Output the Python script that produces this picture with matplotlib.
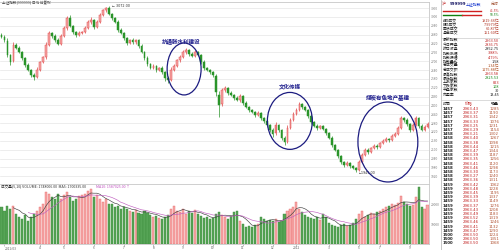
import matplotlib
matplotlib.use("Agg")
import matplotlib.pyplot as plt
import numpy as np
from matplotlib.patches import Ellipse, Rectangle
from matplotlib.lines import Line2D

plt.rcParams['font.family'] = ['Noto Sans CJK SC', 'DejaVu Sans']

# ---------------- data ----------------
closes = [2864,2844,2742,2694,2810,2790,2762,2722,2674,2640,
          2607,2593,2640,2694,2728,2810,2891,2871,2844,2817,
          2871,2925,2993,2939,2898,2878,2891,2898,2925,2966,
          2979,2932,2966,3013,3047,3060,3020,2993,2966,2912,
          2891,2857,2823,2844,2830,2844,2803,2762,2722,2681,
          2654,2667,2640,2654,2627,2586,2573,2640,2667,2708,
          2728,2762,2776,2749,2735,2762,2742,2694,2654,2640,
          2627,2607,2491,2403,2505,2518,2484,2471,2451,2437,
          2464,2417,2390,2369,2356,2335,2349,2315,2295,2268,
          2234,2207,2268,2234,2180,2153,2247,2301,2342,2369,
          2410,2390,2369,2329,2288,2261,2247,2261,2241,2213,
          2180,2132,2098,2057,2017,1996,2010,1989,1976,1962,
          2017,2064,2098,2084,2111,2125,2118,2145,2159,2173,
          2166,2193,2207,2247,2315,2301,2274,2234,2268,2315,
          2261,2234,2254,2274]
opens = [2880,2866,2840,2740,2700,2812,2788,2760,2720,2672,
         2638,2605,2595,2642,2696,2730,2812,2889,2869,2842,
         2819,2873,2927,2990,2937,2896,2876,2893,2900,2927,
         2964,2977,2934,2968,3015,3045,3058,3018,2991,2964,
         2910,2889,2855,2825,2846,2828,2842,2801,2760,2720,
         2679,2656,2665,2642,2652,2625,2584,2575,2642,2669,
         2706,2730,2760,2774,2747,2737,2760,2740,2692,2652,
         2638,2625,2600,2470,2410,2503,2516,2482,2469,2449,
         2439,2462,2415,2388,2367,2354,2337,2347,2313,2293,
         2266,2232,2210,2266,2232,2178,2155,2249,2303,2344,
         2371,2408,2388,2367,2327,2286,2259,2249,2259,2239,
         2211,2178,2130,2096,2055,2015,1998,2008,1987,1974,
         1964,2019,2066,2096,2086,2113,2127,2120,2147,2161,
         2171,2168,2195,2209,2249,2313,2299,2272,2236,2270,
         2313,2259,2236,2256]
upper_wick = [12,8,15,10,20,9,14,7,11,16,
              9,13,18,10,8,22,14,9,12,17,
              10,15,12,20,9,11,14,8,16,12,
              18,10,13,15,9,7,14,11,8,13,
              16,10,12,9,14,8,11,15,10,13,
              9,16,12,8,14,10,18,22,12,9,
              15,11,14,8,12,16,10,9,13,11,
              8,10,14,25,16,12,9,13,10,15,
              11,9,14,8,12,10,16,9,11,13,
              8,12,18,10,9,14,20,12,10,15,
              13,9,11,8,12,10,14,9,11,8,
              10,12,9,11,8,10,13,9,12,8,
              15,12,10,14,9,11,13,8,12,10,
              9,11,14,16,12,10,13,9,15,12,
              10,14,11,12]
lower_wick = [10,14,12,18,9,11,8,15,12,10,
              16,20,9,12,10,14,8,11,13,9,
              12,10,14,9,15,11,8,12,10,9,
              13,15,10,9,11,12,10,14,9,12,
              10,13,15,9,12,11,14,10,12,15,
              9,11,13,10,12,20,18,10,9,12,
              11,8,10,13,9,12,10,14,11,9,
              12,15,30,80,14,10,12,9,11,10,
              13,12,10,14,9,11,10,12,13,15,
              12,18,10,14,16,20,12,10,9,11,
              10,12,9,11,13,10,12,9,10,12,
              11,13,10,12,14,11,9,12,10,13,
              10,9,11,12,10,9,11,10,12,9,
              11,10,12,9,10,11,12,14,10,11,
              12,10,11,9]
volumes = [37,33,38,35,38,30,27,25,29,23,
           27,30,33,37,40,52,50,47,45,50,
           45,49,52,47,43,45,48,49,50,53,
           55,47,49,45,42,45,40,40,37,38,
           35,37,35,33,32,34,31,30,33,31,
           29,27,28,26,25,27,29,35,38,33,
           32,35,30,33,31,34,30,28,26,27,
           25,26,30,32,29,27,25,28,32,33,
           23,20,17,18,17,19,20,27,25,23,
           24,23,25,22,23,30,33,35,37,42,
           35,32,29,27,26,25,27,24,30,27,
           21,19,18,17,19,20,18,19,21,25,
           30,33,27,29,31,30,32,33,35,37,
           38,40,39,41,48,42,40,38,39,47,
           57,37,35,39]

date_pos = [1, 13, 21, 31, 41, 51, 61, 71, 81, 91, 99, 110, 120, 127, 137]
date_labels = ["2011/03", "4", "5", "6", "7", "8", "9", "10", "11", "12",
               "2012", "3", "5", "7", "9"]

annotations = ["抗通胀水利建设", "文化传媒", "煤炭有色地产基建"]
annot_idx = [60.3, 96.8, 129.7]
annot_price = [2837, 2525, 2457]
ell_idx = [61.3, 96.8, 129.7]
ell_price = [2647, 2295, 2152]
ell_w = [11.4, 15.1, 20.1]
ell_h = [352, 386, 542]

info_labels1 = ["A股成交", "B股成交", "国债成交", "基金成交"]
info_values1 = ["1919.66亿", "7.9979亿", "60.87亿", "151.60亿"]
info_labels2 = ["最新指数", "今日开盘", "昨日收盘", "指数涨幅", "指数振幅", "指数量比",
                "总成交量", "总成交额", "最高指数", "最低指数", "上涨家数", "下跌家数",
                "平盘家数", "市盈率"]
info_values2 = ["2963.50", "2836.75", "2852.75", "3.88%", "4.79%", "1.58",
                "1.34亿", "1175.88亿", "2963.58", "2825.53", "823", "108",
                "30", "13.45"]
info_colors2 = ["#c02020", "#c02020", "#202020", "#c02020", "#c02020", "#202020",
                "#b05020", "#b05020", "#c02020", "#1a8a1a", "#c02020", "#1a8a1a",
                "#202020", "#202020"]
tick_times = ["1457"] * 6 + ["1458"] * 12 + ["1459"] * 12 + ["1500"] * 3
tick_prices = [2963.43, 2963.37, 2963.31, 2963.33, 2963.25, 2963.29, 2963.21, 2963.40,
               2963.38, 2963.44, 2963.47, 2963.39, 2963.35, 2963.41, 2963.46, 2963.30,
               2963.27, 2963.36, 2963.42, 2963.48, 2963.45, 2963.39, 2963.33, 2963.37,
               2963.43, 2963.49, 2963.52, 2963.46, 2963.41, 2963.47, 2963.50, 2963.50,
               2963.50]
tick_vols = [1285, 1190, 1342, 1076, 1231, 1154, 1302, 1267, 1098, 1215, 1344, 1187,
             1256, 1120, 1298, 1173, 1240, 1311, 1062, 1228, 1195, 1337, 1149, 1276,
             1208, 1183, 1319, 1246, 1132, 1290, 1224, 1351, 1068]

# ---------------- layout ----------------
W, H = 500, 250
fig = plt.figure(figsize=(5, 2.5), dpi=100)
fig.patch.set_facecolor('white')

def fx(x):
    return x / W

def fy(y):
    return 1 - y / H

n = len(closes)
idx = np.arange(n)
o = np.array(opens, float)
c = np.array(closes, float)
hi = np.maximum(o, c) + np.array(upper_wick)
lo = np.minimum(o, c) - np.array(lower_wick)
up = c >= o

ax = fig.add_axes([0, fy(183), fx(429), (183 - 2) / H])
axv = fig.add_axes([0, fy(244), fx(429), (244 - 184) / H])

UP_EDGE = '#e04848'
UP_FACE = '#f6a8a8'
DN = '#2a942a'

# wicks
ax.vlines(idx[up], lo[up], hi[up], color=UP_EDGE, lw=0.5, zorder=2)
ax.vlines(idx[~up], lo[~up], hi[~up], color=DN, lw=0.5, zorder=2)
# bodies
body_h = np.maximum(np.abs(c - o), 2)
ax.bar(idx[up], body_h[up], bottom=np.minimum(o, c)[up], width=0.6,
       facecolor=UP_FACE, edgecolor=UP_EDGE, lw=0.35, zorder=3)
ax.bar(idx[~up], body_h[~up], bottom=np.minimum(o, c)[~up], width=0.6,
       facecolor=DN, edgecolor=DN, lw=0.35, zorder=3)

ax.set_xlim(-0.5, n - 0.5)
ax.set_ylim(1874, 3101)
yt = np.arange(1920, 3101, 60)
ax.set_yticks(yt)
ax.set_yticklabels([f"{v}" for v in yt])
ax.yaxis.tick_right()
ax.tick_params(axis='y', length=0, pad=1.5, labelsize=2.4, labelcolor='#808080')
ax.tick_params(axis='x', length=0, labelbottom=False)
ax.grid(axis='y', color='#e6e6e6', lw=0.5, zorder=0)
for s in ['left', 'bottom']:
    ax.spines[s].set_visible(False)
for s in ['top', 'right']:
    ax.spines[s].set_color('#c8c8c8')
    ax.spines[s].set_linewidth(0.6)

# extremes
imax = int(np.argmax(hi))
imin = int(np.argmin(lo))
ax.text(imax + 1.2, hi[imax], f"← {hi[imax]:.2f}", fontsize=2.4, color='#333333',
        va='center', ha='left', family='DejaVu Sans')
ax.text(imin + 0.8, lo[imin] - 8, f"←{lo[imin]:.2f}", fontsize=2.4, color='#333333',
        va='center', ha='left', family='DejaVu Sans')

# annotations
for t, xi, yi in zip(annotations, annot_idx, annot_price):
    ax.text(xi, yi, t, fontsize=4.0, color='#1c1c8c', ha='center', va='center',
            fontweight='bold', zorder=5)
for xi, yi, w, h in zip(ell_idx, ell_price, ell_w, ell_h):
    ax.add_patch(Ellipse((xi, yi), w, h, fill=False, edgecolor='#1c1c80',
                         lw=0.9, zorder=5))

# volume
vol = np.array(volumes, float)
axv.bar(idx[up], vol[up], width=0.7, facecolor=UP_FACE, edgecolor='#e86a6a', lw=0.3)
axv.bar(idx[~up], vol[~up], width=0.7, facecolor='#56a456', edgecolor='#3d8e3d', lw=0.3)
ma5 = np.convolve(vol, np.ones(5) / 5, mode='valid')
ma10 = np.convolve(vol, np.ones(10) / 10, mode='valid')
axv.plot(idx[4:], ma5, color='#404040', lw=0.45)
axv.plot(idx[9:], ma10, color='#c060c0', lw=0.45)
axv.set_xlim(-0.5, n - 0.5)
axv.set_ylim(0, 60)
axv.set_yticks([20, 40])
axv.set_yticklabels(["10000", "20000"])
axv.yaxis.tick_right()
axv.tick_params(axis='y', length=0, pad=1.5, labelsize=2.4, labelcolor='#808080')
axv.set_xticks(date_pos)
axv.set_xticklabels(date_labels)
axv.get_xticklabels()[0].set_horizontalalignment('left')
axv.tick_params(axis='x', length=1.2, width=0.4, pad=0.3, labelsize=2.3,
                labelcolor='#606060', color='#909090')
for s in ['left']:
    axv.spines[s].set_visible(False)
for s in ['top', 'right', 'bottom']:
    axv.spines[s].set_color('#c8c8c8')
    axv.spines[s].set_linewidth(0.6)

# headers
fig.text(fx(2), fy(3.5), "上证指数(999999) 日线 前复权", fontsize=2.6, color='#404040',
         va='center', ha='left')
fig.text(fx(1), fy(187.5), "成交量(5,10) VOLUME: 1748006.00  MA5: 1700335.00",
         fontsize=2.6, color='#303030', va='center', ha='left')
fig.text(fx(96), fy(187.5), "MA10: 1587025.00 ↑", fontsize=2.6, color='#c050c0',
         va='center', ha='left')

# ---------------- right info panel ----------------
fig.add_artist(Rectangle((fx(440), 0), 1 - fx(440), 1, transform=fig.transFigure,
                         facecolor='white', edgecolor='none', zorder=5))
fig.add_artist(Line2D([fx(440.5), fx(440.5)], [0, 1], transform=fig.transFigure,
                      color='#b0b0b0', lw=0.5, zorder=6))

def T(x, y, s, **kw):
    kw.setdefault('fontsize', 2.8)
    kw.setdefault('va', 'center')
    kw.setdefault('zorder', 7)
    fig.text(fx(x), fy(y), s, **kw)

T(442, 4, "沪", color='#c02020')
T(450, 4, "999999", color='#101060', fontweight='bold', family='DejaVu Sans')
T(466, 4, "上证指数", color='#1a3ad0')
T(499, 4, "分时", color='#a05030', ha='right')
fig.add_artist(Line2D([fx(443), fx(481)], [fy(10.5), fy(10.5)], transform=fig.transFigure,
                      color='#d02020', lw=1.0, zorder=7))
fig.add_artist(Line2D([fx(443), fx(462)], [fy(14.5), fy(14.5)], transform=fig.transFigure,
                      color='#108010', lw=1.0, zorder=7))
fig.add_artist(Line2D([fx(462), fx(481)], [fy(14.5), fy(14.5)], transform=fig.transFigure,
                      color='#d02020', lw=1.0, zorder=7))
T(499, 10.5, "41.5%", color='#c02020', ha='right', fontsize=2.4)
T(499, 14.5, "58.5%", color='#108010', ha='right', fontsize=2.4)

y = 21
for lab, val in zip(info_labels1, info_values1):
    T(443, y, lab, color='#202020')
    T(499, y, val, color='#b03020', ha='right')
    y += 4.1
fig.add_artist(Line2D([fx(441), 1], [fy(37.5), fy(37.5)], transform=fig.transFigure,
                      color='#c0c0c0', lw=0.4, zorder=7))
y = 41
for lab, val, col in zip(info_labels2, info_values2, info_colors2):
    T(443, y, lab, color='#202020')
    T(499, y, val, color=col, ha='right')
    y += 4.15
fig.add_artist(Line2D([fx(441), 1], [fy(100), fy(100)], transform=fig.transFigure,
                      color='#c0c0c0', lw=0.4, zorder=7))
T(443, 104, "时间", color='#202020')
T(465, 104, "价格", color='#c02020')
T(499, 104, "现量", color='#202020', ha='right')
y = 109
for tt, pp, vv in zip(tick_times, tick_prices, tick_vols):
    T(443, y, tt, color='#202020', family='DejaVu Sans', fontweight='bold')
    T(463, y, f"{pp:.2f}", color='#c02020', family='DejaVu Sans')
    T(499, y, f"{vv}", color='#b05030', ha='right', family='DejaVu Sans')
    y += 4.2

fig.savefig("out.png", dpi=100, facecolor='white')
